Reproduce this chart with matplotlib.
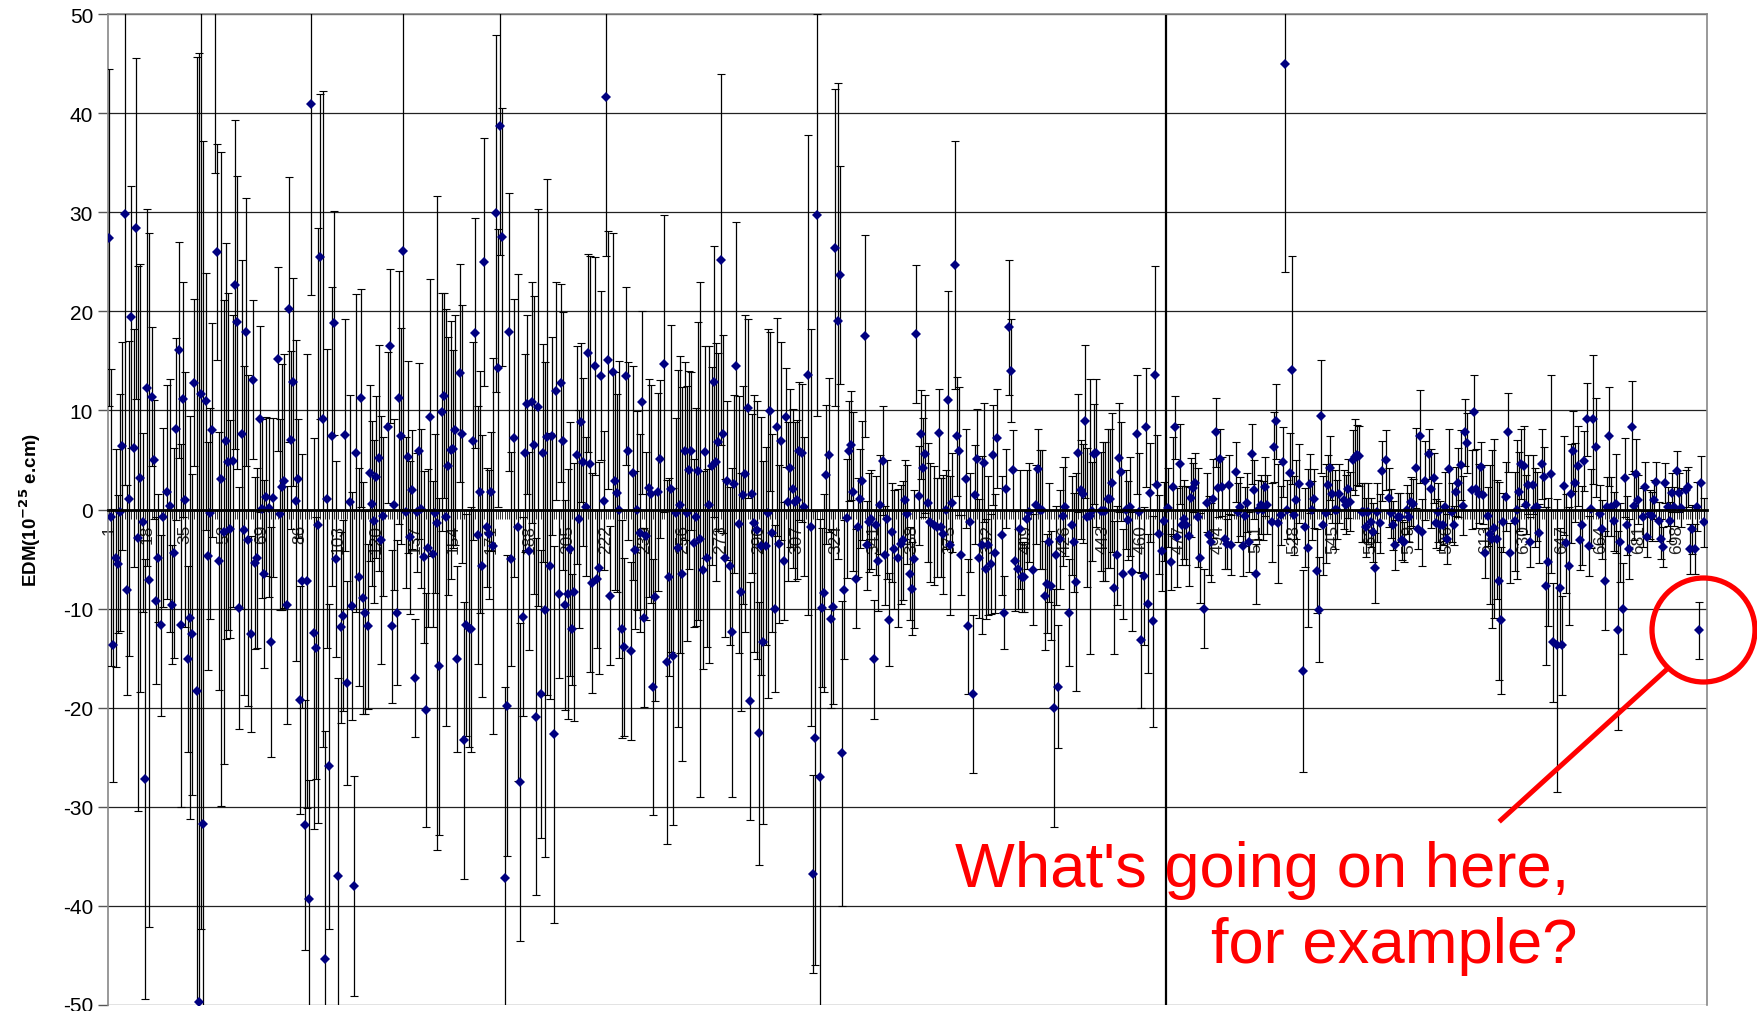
import matplotlib
matplotlib.use('Agg')
import matplotlib.pyplot as plt
import matplotlib.transforms as mtrans
import numpy as np
from matplotlib.patches import Ellipse
from matplotlib.lines import Line2D

edm_a = [27.4,-0.8,-13.7,-4.9,-5.5,-0.3,6.4,29.8,-8.1,1.1,
         19.4,6.2,28.4,-2.9,3.2,-1.3,-27.2,12.3,-7.1,11.4,
         5,-9.2,-4.9,-11.7,-0.8,1.8,0.4,-9.6,-4.4,8.1,
         16.1,-11.7,11.1,1,-15.1,-10.9,-12.6,12.8,-18.3,-49.7,
         11.7,-31.7,10.9,-4.7,-0.4,8,58,26,-5.2,3.1,
         -2.3,6.9,4.8,-2,4.9,22.7,18.9,-9.9,7.6,-2.1,
         17.9,-3.1,-12.6,13.1,-5.4,-4.9,9.1,0.1,-6.5,1.3,
         0.2,-13.4,1.2,15.2,-0.5,2.3,2.9,-9.6,20.2,7,
         12.9,0.9,3.1,-19.2,-7.2,-31.8,-7.2,-39.3,40.9,-12.5,
         -14,-1.6,25.5,9.1,-45.4,1.1,-25.9,7.4,18.8,-5,
         -37,-11.9,-10.7,7.5,-17.5,0.8,-9.7,-38,5.7,-6.8,
         11.3,-8.9,-10.4,-11.8,3.7,0.6,-1.2,3.3,5.2,-3.1,
         -0.7,8.3,16.5,-11.8,0.5,-10.4,11.3,7.4,26.1,-0.3,
         5.3,-2.8,2,-17,-0.3,5.9,0.1,-4.8,-20.2,-3.9,
         9.3,-4.5,-0.4,-1.4,-15.8,9.8]
err_a = [17,15,13.8,11,7,12,10.5,27.3,10.6,15.9,
         13.2,12,17.2,27.5,21.6,9,22.2,18,35,7,
         6,8.4,6.5,9.1,9,10.8,12.8,6,10.6,9.2,
         10.9,18.3,11.9,12.9,9.4,20.3,16.2,8.4,64,95.8,
         54,68.9,13,11.5,10.6,10.8,24,10.9,13,33,
         23.4,20,17,11,14.7,16.6,14.8,12.2,17.6,16.6,
         13.5,16.7,9.9,8,8.7,9.1,9.4,9,9.5,8,
         9,11.6,8,9.3,9.6,12.4,12.8,12,13.4,9,
         10.5,16.2,6,11.5,12.8,12.6,22.9,12,19.3,19.7,
         13.2,30,16.4,33.1,23,15.1,16.4,15.1,11.3,9.9,
         20,9.6,9.6,11.7,10.3,10.8,11.5,11.1,16,11,
         11,11.7,10.2,8.3,8.9,8.3,8.2,8.2,11.4,12.5,
         8,7.6,7.8,7.7,8.6,7.3,12.8,10.9,26,7.6,
         9.7,7.7,6,6,6,8.9,8,8.7,11.8,8,
         14,7.4,8,33,17,12]

edm_b = [11.5,-0.8,4.4,6,6.1,8,-15.1,13.8,7.6,-23.3,
         -11.7,-12,-12.1,6.9,17.8,-2.6,1.8,-5.7,25,-1.8,
         -2.5,1.8,-3.7,29.9,14.3,38.7,27.5,-37.2,-19.8,17.9,
         -5,7.2,-1.8,-27.5,-10.8,5.7,10.6,-4.2,10.8,6.5,
         -20.9,10.3,-18.6,5.7,-10.1,7.3,-5.7,7.4,-22.7,12,
         -8.5,12.8,6.9,-9.6,-8.5,-4,-12.1,-8.3,5.5,-1,
         8.8,4.8,0.3,15.8,4.6,-7.4,14.5,-7,-5.9,13.5,
         0.9,41.6,15.1,-8.7,13.9,2.9,1.7,0,-12.1,-13.9,
         13.5,5.9,-14.3,3.7,-4.1,-0.1,-2.4,10.8,-10.9,-2.7,
         2.2,1.6,-17.9,-8.8,1.8,5.1,14.7,-15.4,-6.8,2.1,
         -14.8,-0.4,-3.9,0.5,-6.5,5.9,-0.4,4,5.9,-3.4,
         -0.8,3.9,-3,-6.1,5.8,-4.9,0.5,4.4,12.9,4.8,
         6.8,25.2,7.6,-4.9,2.9,-5.7,-12.4,2.6,14.5,-1.5,
         -8.3,1.5,3.6,10.2,-19.3,1.6,-1.4,-2.1,-22.6,-3.7,
         -13.4,-3.7,-0.4,9.9,-2.4,-10,8.3,-3.5,6.9,-5.2,
         9.3,0.8,4.2,2.1,0.8,1,5.9,5.7,0.3,13.6,
         -1.8,-36.8,-23.1,29.7,-27,-9.9,-8.4,3.5,5.5,-11,
         -9.8,26.4,19,23.7,-24.6,-8.1,-0.9,5.9,6.5,1.8,
         -7,-1.8,1.1,2.9,17.5,-3.6,-1.3,-1,-15.1,-1.6,-5.2]
err_b = [10.3,21,13,13,10,11.6,9.4,11,13,14,
         11.2,12,12.4,10,11.6,13,12.2,13.2,12.5,6,
         6.5,6,19,18,14,13,13,19.3,15.2,14,
         10.8,14,25.6,16,10,10,9,10,12.2,15,
         18,20,14.5,11,25,26,13.4,10,19,11,
         8.5,10,13,10.6,12.6,12.8,5.6,13,11,11,
         8,8.5,7,10,21,11.1,11,7,10.7,8.5,
         7,16,13,7,14,11,10,15,11,9,
         9,9,9,10.8,8,10,10,9.2,9,8.5,
         11,11,12.9,10.5,10,8,15,18.4,10,16.5,
         17,9.6,18,15,18.9,9,12.9,10,8,8.5,
         11,15,26,10,10.7,9,16,10,13.7,12,
         9,18.7,10,8,8,8,16.6,9,14.5,13,
         12,11,16,9,12,8,13,13,13.3,13,
         18.3,10,18.6,8,10,8.4,11,8,10,6,
         5,8,8,8,8,8,7,7,7,24.2,
         20,10,22.9,20.3,26,8,10,7,7.8,9,
         9.8,16,24,11,15.4,7,6,5,5.5,8,
         5,5,5,6,10.2,4.5,5,5,6,5,5]

edm_c = [0.5,4.9,-4.6,-1,-11.1,-2.3,-4,-4.9,-3.5,-3.1,
         1,-0.5,-6.5,-8,-5,17.7,1.4,7.6,4.2,5.6,
         0.7,-1.3,-1.6,-1.8,7.7,-1.8,-2.5,0,11,-3.6,
         0.7,24.7,7.4,5.9,-4.6,3.1,-11.8,-1.3,-18.6,1.5,
         5.1,-4.9,-3.6,4.7,-6,-3.6,-5.5,5.5,-4.4,7.2,
         -2.6,-10.4,2.1,18.4,14,4,-5.2,-6,-2,-6.8,
         -6.8,-1,-0.3,-6.1,0.5,4.1,0,0,-8.7,-7.5,
         -3.3,-7.7,-20,-4.6,-17.9,-3,-0.7,0.3,-10.4,-1.6,
         -3.3,-7.3,5.7,2,1.6,8.9,-0.8,-0.7,-0.2,5.6,
         5.7,-0.2,-0.2,-0.2,1.1,1.1,2.7,-7.9,-4.6,5.2,
         3.8,-6.5,0,-1.1,0.3,-6.3,7.6,-0.3,-13.2,-6.7,
         8.3,-9.5,1.7,-11.3,13.6,2.5,-2.5,-4.2,-1.2,0.2,
         -5.3,2.3,8.3,-2.8,4.6,-1.6,-1,-1.6,-2.7,1.2,
         2.2,2.7,-0.8,-4.9,-10,0.7,-2.6,-3.3,1.1,7.8,
         2.2,5.1,2.3,-3,-3.5,2.5,-3.6,3.8,-0.3,0.3,
         -3.7,-0.7,0.7,-3.3,5.6,2,-6.5,0,0.5,-0.1,
         2.3,0.5,-1.3,6.3,8.9,-1.4,-0.6,4.8,45,0,
         3.7,14.1,-0.6,1,2.6,-16.3,-1.8,-3.9,2.6,-0.1,
         1.1,-6.2,-10.1]
err_c = [5,5.5,5,6,4.7,5,6,7,6,6,
         4,5,4.7,4.7,7,7,5,4.5,5,6,
         6,6,6,5,4.5,5,6,4,11,7,
         5,12.5,6,6.5,4,5,6.8,5,8,5,
         5,6,9,6,5,7,5,5,6,5,
         6,3.7,4,6.8,5.2,4,5,4,6,3.5,
         3.5,5,5,5.6,4,4,6,6,5.5,5,
         6,5.5,12,5,6.2,5,5,5,5.4,5,
         5,11,6,5,5,7.7,7,13.9,5,5,
         7.5,6,7,7,7,7,7,6.7,5,5.5,
         5,4.5,4,4,5,6,6,6,6.8,7,
         6,7,5,10.6,11,5,4,4,4,4,
         2.8,5,3.2,5,4,4,4,4,5,4,
         2.5,3,5,4.5,4,3,4,4,4,3.5,
         3,3,3,3,2.5,3,3,3,3,3,
         3,3,3,3,3,3,3,3,3,3,
         3,3,4,3.5,3.8,6,3,3.5,21,3,
         4,11.5,4,4,4,10.2,4,8,3,3,
         3,4.2,5.3]

edm_d = [9.4,-1.6,-0.4,2.5,4.2,1.6,0,0,1.6,1,
         0.5,2.1,0.8,5,5.3,5.5,5.4,-0.3,-0.3,-1.8,
         -0.3,-1.3,-2.3,-5.9,-0.3,-1.4,3.9,5,1.2,-0.4,
         -1.6,-3.6,-0.8,-0.8,-3.1,-3.3,0,-0.8,0.8,0.6,
         4.2,-2,7.4,-2.3,2.9,5.6,2.1,3.2,-1.4,-0.3,
         -1.6,-1.6,0.3,-3,4.1,-0.3,-1.6,1.8,2.7,4.5,
         0.4,7.8,6.7,2,9.8,2.1,1.6,4.3,1.5,-4.4,
         -0.7,-2.5,-3,-1.9,-3,-7.2,-11.2,-1.3,1.3,7.8,
         -4.4,-1.2,0,1.8,4.6,4.4,0.5,2.5,-3.3,2.5,
         0.2,0.3,-2.4,4.6,3.3,-7.7,-5.3,3.6,-13.4,-13.7,
         -7.9,-13.7,2.4,-3.4,-5.7,1.6,5.9,2.7,4.4,-3.1,
         -1.6,4.9,9.1,-3.7,0.1,9.1,6.3,-0.5,-2,-7.2,
         0.3,7.4,0.3,-1.2,0.6,-12.2,-3.3,-10,3.2,-1.6,
         -4,8.3,0.4,3.6,1,-0.8,2.3,-2.8,-0.5,-0.7,
         1,2.8,-1.2,-3,-3.8,2.7,0.3,-1.2,1.7,0.3,
         3.9,1.7,0.2,2,2.3,-4,-2,-4,0.3,-12.2,2.7,-1.3]
err_d = [5.7,5,5,3,3.2,3,4,3,3,3,
         3,3,3,3,3.8,3,3,3,3,3,
         3,2.5,3,3.5,3,3,3,3,3,2.5,
         2.5,2.5,2.5,2.5,2,2,2.5,2.5,2.5,2.5,
         4,2,4.7,3.4,4,2.5,4,2.5,2.5,3,
         2.5,2,3.5,2.5,4,3,2,2.5,3.5,3.5,
         3,3.4,3,4,3.8,4,3,2.5,3,2.5,
         3,7,9,9,6,10,7.4,3,3.5,4,
         3,5,7,4,3.5,4,3,3,2.5,3,
         4,3.5,3,3.5,3,8,6.5,10,6,14.8,
         6,5,5,5,6,5,4,4,4,3,
         4,3,3.7,3,4,6.5,5,3,3,5,
         3,5,3,3,5,10,4,4.6,4,3,
         3,4.7,3.5,3.5,2.5,3,2.5,2,2.5,2.5,
         2,2,2,2,2,2,2,2,2,2,
         2,2,2,2,2,2.5,2.5,2.5,2.5,2.9,2.7,2.5]

# first and last measurement number of each block
block_ends = [(1, 149), (150, 343), (344, 539), (540, 710)]
n_meas = 711
tick_labels = [1,18,35,52,69,86,103,120,137,154,171,188,205,222,239,256,273,290,307,324,341,
               358,375,392,409,426,443,460,477,494,511,528,545,562,579,596,613,630,647,664,681,698]
marked_run = 471

W, H = 1758, 1012
plt.rcParams['font.family'] = ['Liberation Sans', 'DejaVu Sans']
plt.rcParams['axes.unicode_minus'] = False
fig = plt.figure(figsize=(W/100, H/100), dpi=100)
ax = fig.add_axes([107.7/W, 1-1006/H, (1707-107.7)/W, (1006-15)/H])

cats, edm, err = [], [], []
for (a, b), e, s in zip(block_ends, [edm_a, edm_b, edm_c, edm_d], [err_a, err_b, err_c, err_d]):
    cats += list(np.round(np.linspace(a, b, len(e))))
    edm += e
    err += s

ax.grid(axis='y', color='#222222', lw=0.9, zorder=1)
ax.set_axisbelow(True)
ax.axvline(marked_run, color='black', lw=1.6, zorder=2)
ax.errorbar(cats, edm, yerr=err, fmt='none', ecolor='black', elinewidth=0.9,
            capsize=3.1, capthick=0.8, zorder=3)
ax.plot(cats, edm, 'D', color='#000080', ms=5.2, mew=0, zorder=4)

ax.set_xlim(0.5, n_meas + 0.5)
ax.set_ylim(-50, 50)
ax.set_yticks(np.arange(-50, 51, 10))
ax.tick_params(axis='y', labelsize=15, length=7, width=1, color='#555555')
# keep the bottom label inside the page
low = ax.get_yticklabels()[0]
low.set_transform(low.get_transform() + mtrans.ScaledTranslation(0, 2/100, fig.dpi_scale_trans))

ax.spines['bottom'].set_position(('data', 0))
ax.spines['bottom'].set_linewidth(2)
ax.spines['bottom'].set_zorder(5)
for side in ['left', 'right', 'top']:
    ax.spines[side].set_color('#888888')
    ax.spines[side].set_linewidth(1.2)

ax.set_xticks(tick_labels)
ax.set_xticklabels(tick_labels, rotation=90, fontsize=12.5, color='#222222')
ax.set_xticks(np.arange(1, n_meas + 1), minor=True)
ax.tick_params(axis='x', which='major', length=6.5, width=0.7, pad=4, color='#333333')
ax.tick_params(axis='x', which='minor', length=6.5, width=0.7, color='#333333')

fig.text(30/W, 1-510/H, r'EDM(10$^{\mathbf{-25}}$ e.cm)', rotation=90, fontsize=13.5,
         fontweight='bold', ha='center', va='center', math_fontfamily='dejavusans')

# red note, placed in figure pixels
fig.text(955/W, 1-871/H, "What's going on here,", color='#ff0000', fontsize=45.6,
         family='Liberation Sans', ha='left', va='center', zorder=10)
fig.text(1211/W, 1-946/H, 'for example?', color='#ff0000', fontsize=45.6,
         family='Liberation Sans', ha='left', va='center', zorder=10)
fig.add_artist(Ellipse((1703.5/W, 1-631/H), 103/W, 104/H, transform=fig.transFigure,
                       fill=False, ec='#ff0000', lw=3.8, zorder=10))
fig.add_artist(Line2D([1665/W, 1501/W], [1-672/H, 1-821/H], color='#ff0000', lw=3.6, zorder=10))

fig.savefig('out.png', dpi=100)
